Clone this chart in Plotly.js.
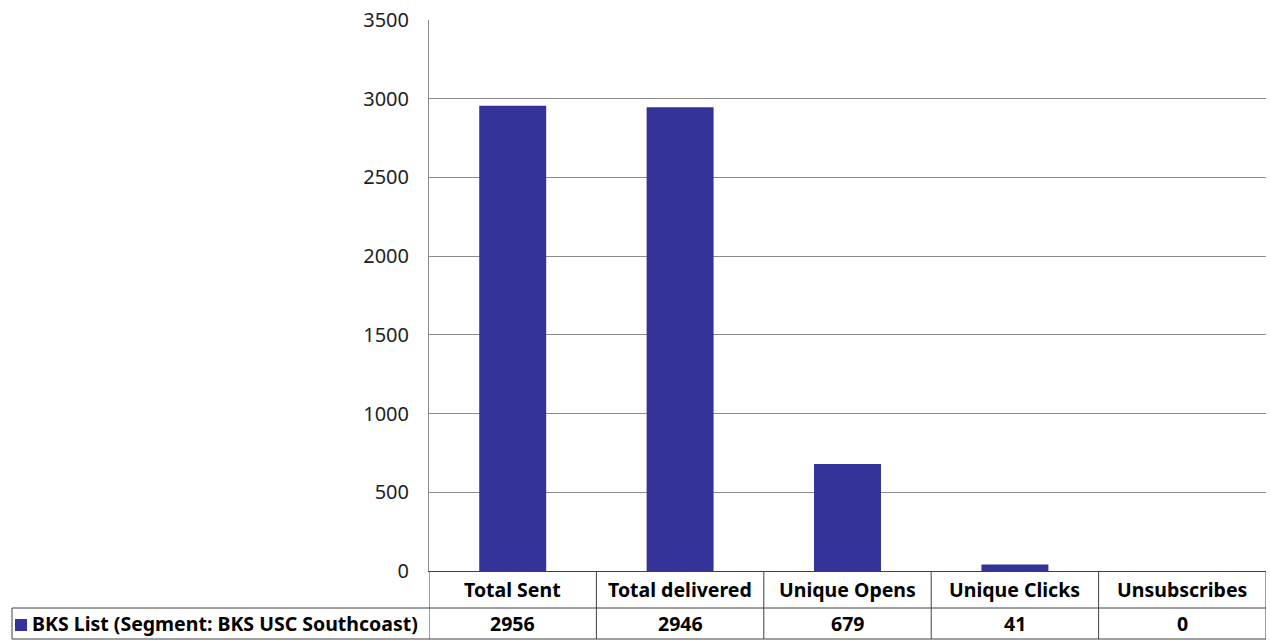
<!DOCTYPE html>
<html><head><meta charset="utf-8">
<script src="https://cdn.plot.ly/plotly-3.0.1.min.js"></script>
<style>html,body{margin:0;padding:0;background:#fff}</style>
</head><body><div id="chart" style="width:1270px;height:640px"></div>
<script>
const categories = ["Total Sent", "Total delivered", "Unique Opens", "Unique Clicks", "Unsubscribes"];
const values = [2956, 2946, 679, 41, 0];
const seriesName = "BKS List (Segment: BKS USC Southcoast)";
const yTicks = [0, 500, 1000, 1500, 2000, 2500, 3000, 3500];

const W = 1270, H = 640, ML = 429, MR = 4, MT = 20, MB = 69;
const PW = W - ML - MR, PH = H - MT - MB;
const py = px => -(px - (H - MB)) / PH;   // pixel y -> paper y
const pxp = px => (px - ML) / PW;          // pixel x -> paper x
const barColor = "#333399";
const font = "Noto Sans, Liberation Sans, sans-serif";
const tblSize = 19.5;

const shapes = [];
const annotations = [];
const row1Top = py(571), row1Bot = py(608), row2Bot = py(639);
shapes.push({type:'line', xref:'paper', yref:'paper', x0:pxp(12), x1:1, y0:row1Bot, y1:row1Bot, line:{color:'#404040', width:1}});
shapes.push({type:'line', xref:'paper', yref:'paper', x0:pxp(12), x1:1, y0:row2Bot, y1:row2Bot, line:{color:'#404040', width:1}});
shapes.push({type:'line', xref:'paper', yref:'paper', x0:pxp(12), x1:pxp(12), y0:row1Bot, y1:row2Bot, line:{color:'#404040', width:1}});
for (let i = 0; i <= categories.length; i++) {
  shapes.push({type:'line', xref:'x', yref:'paper', x0:i-0.5, x1:i-0.5, y0:row1Top, y1:row2Bot, line:{color:'#404040', width:1}});
}
categories.forEach((c, i) => {
  annotations.push({xref:'x', yref:'paper', x:i, y:(row1Top+row1Bot)/2, text:'<b>'+c+'</b>', showarrow:false, font:{family:font, size:tblSize, color:'#000'}, xanchor:'center', yanchor:'middle'});
  annotations.push({xref:'x', yref:'paper', x:i, y:(row1Bot+row2Bot)/2, text:'<b>'+values[i]+'</b>', showarrow:false, font:{family:font, size:tblSize, color:'#000'}, xanchor:'center', yanchor:'middle'});
});
shapes.push({type:'rect', xref:'paper', yref:'paper', x0:pxp(15), x1:pxp(27), y0:py(631), y1:py(619), fillcolor:barColor, line:{width:0}});
annotations.push({xref:'paper', yref:'paper', x:pxp(30), y:(row1Bot+row2Bot)/2, text:'<b>'+seriesName+'</b>', showarrow:false, font:{family:font, size:tblSize, color:'#000'}, xanchor:'left', yanchor:'middle'});

const data = [{
  type:'bar', x:categories, y:values, name:seriesName,
  marker:{color:barColor}, hoverinfo:'x+y'
}];
const layout = {
  width:W, height:H, margin:{l:ML, r:MR, t:MT, b:MB, pad:0},
  paper_bgcolor:'#fff', plot_bgcolor:'#fff', showlegend:false, bargap:0.6,
  font:{family:font},
  xaxis:{type:'category', range:[-0.5, categories.length-0.5], showticklabels:false, ticks:'', showgrid:false, zeroline:false, showline:true, linecolor:'#404040', linewidth:1, fixedrange:true},
  yaxis:{range:[0,3500], tickvals:yTicks, ticktext:yTicks.map(String), showgrid:true, gridcolor:'#8c8c8c', gridwidth:1, zeroline:false, showline:true, linecolor:'#8c8c8c', linewidth:1, ticks:'', ticklabelstandoff:15, tickfont:{family:font, size:20, color:'#222'}, fixedrange:true},
  shapes:shapes, annotations:annotations
};
Plotly.newPlot('chart', data, layout, {displayModeBar:false, staticPlot:true});
</script></body></html>
